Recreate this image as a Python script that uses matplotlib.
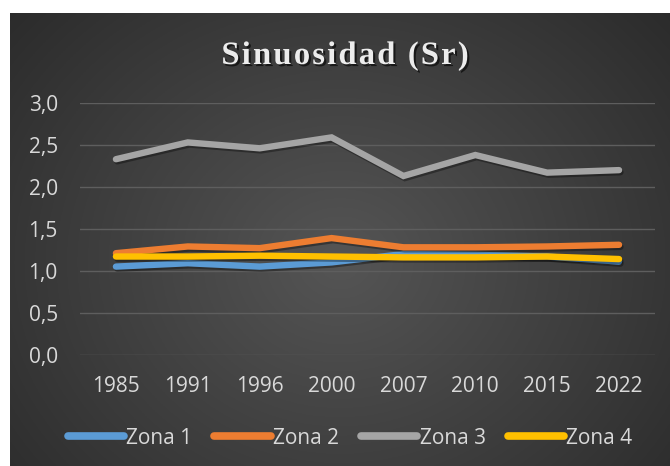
import numpy as np
import matplotlib
matplotlib.use("Agg")
import matplotlib.pyplot as plt
import matplotlib.patheffects as pe
from matplotlib.font_manager import FontProperties

years = ["1985", "1991", "1996", "2000", "2007", "2010", "2015", "2022"]
zona1 = [1.05, 1.09, 1.05, 1.10, 1.20, 1.19, 1.17, 1.11]
zona2 = [1.21, 1.29, 1.27, 1.39, 1.28, 1.28, 1.29, 1.31]
zona3 = [2.33, 2.53, 2.46, 2.59, 2.13, 2.38, 2.17, 2.20]
zona4 = [1.17, 1.17, 1.18, 1.17, 1.16, 1.16, 1.17, 1.14]
series_names = ["Zona 1", "Zona 2", "Zona 3", "Zona 4"]
colors = ["#5B9BD5", "#ED7D31", "#A5A5A5", "#FFC000"]
yticks = [0.0, 0.5, 1.0, 1.5, 2.0, 2.5, 3.0]
ytick_labels = ["0,0", "0,5", "1,0", "1,5", "2,0", "2,5", "3,0"]
title = "Sinuosidad (Sr)"

W, H = 670, 466
fig = plt.figure(figsize=(W / 100, H / 100), dpi=100)
fig.patch.set_facecolor("white")

# background panel with radial gradient
px0, py0 = 10, 13
bg = fig.add_axes([px0 / W, 0, 1 - px0 / W, 1 - py0 / H])
bg.set_axis_off()
nx, ny = 400, 300
xx, yy = np.meshgrid(np.linspace(0, 1, nx), np.linspace(0, 1, ny))
r = np.sqrt(((xx - 0.5) / 0.75) ** 2 + ((yy - 0.55) / 0.95) ** 2)
r = np.clip(r, 0, 1)
c0 = np.array([0x55, 0x55, 0x55]) / 255
c1 = np.array([0x26, 0x26, 0x26]) / 255
img = c0[None, None, :] * (1 - r[..., None]) + c1[None, None, :] * r[..., None]
bg.imshow(img, aspect="auto", extent=[0, 1, 0, 1], origin="upper")
bg.set_xlim(0, 1)
bg.set_ylim(0, 1)

left, right = 80 / W, 655 / W
bottom, top = 1 - 354.7 / H, 1 - 103 / H
ax = fig.add_axes([left, bottom, right - left, top - bottom])
ax.set_facecolor("none")
for s in ax.spines.values():
    s.set_visible(False)

x = np.arange(len(years))
data = [zona1, zona2, zona3, zona4]
shadow = [pe.SimpleLineShadow(offset=(1.0, -1.5), shadow_color="black", alpha=0.35),
          pe.Normal()]
for vals, name, col in zip(data, series_names, colors):
    ax.plot(x, vals, color=col, lw=4.6, solid_capstyle="round",
            solid_joinstyle="miter", label=name, path_effects=shadow, zorder=3)

ax.set_xlim(-0.5, len(years) - 0.5)
ax.set_ylim(0, 3.0)
ax.set_yticks(yticks)
ax.set_yticklabels(ytick_labels)
ax.set_xticks(x)
ax.set_xticklabels(years)
ax.yaxis.grid(True, color="#5e5e5e", lw=1.0, zorder=0)
ax.set_axisbelow(True)
ax.tick_params(axis="both", length=0, colors="#d9d9d9", labelsize=15,
               labelfontfamily="Open Sans")
ax.tick_params(axis="y", pad=16)
ax.tick_params(axis="x", pad=15.5)

# letter-spaced title
tprop = FontProperties(family="Liberation Serif", weight="bold", size=23.5)
renderer = fig.canvas.get_renderer()
ref_w = renderer.get_text_width_height_descent("I", tprop, ismath=False)[0]
advs = [renderer.get_text_width_height_descent(c + "I", tprop, ismath=False)[0] - ref_w
        for c in title]
spacing = 2.2
total = sum(advs) + spacing * (len(title) - 1)
xpos = 345 - total / 2
for c, a in zip(title, advs):
    if c != " ":
        fig.text(xpos / W, 1 - 64 / H, c, ha="left", va="baseline",
                 fontproperties=tprop, color="#ececec",
                 path_effects=[pe.withSimplePatchShadow(offset=(1.5, -1.5),
                                                        shadow_rgbFace="black", alpha=0.6)])
    xpos += a + spacing

handles = [plt.Line2D([0], [0], color=c, lw=5.5, solid_capstyle="round") for c in colors]
leg = fig.legend(handles, series_names, loc="center", bbox_to_anchor=(350 / W, 1 - 438 / H),
                 ncol=4, frameon=False, handlelength=2.7, handletextpad=0.12,
                 columnspacing=1.05, prop={"family": "Open Sans", "size": 15})
for t in leg.get_texts():
    t.set_color("#d9d9d9")

fig.savefig("out.png", dpi=100)
